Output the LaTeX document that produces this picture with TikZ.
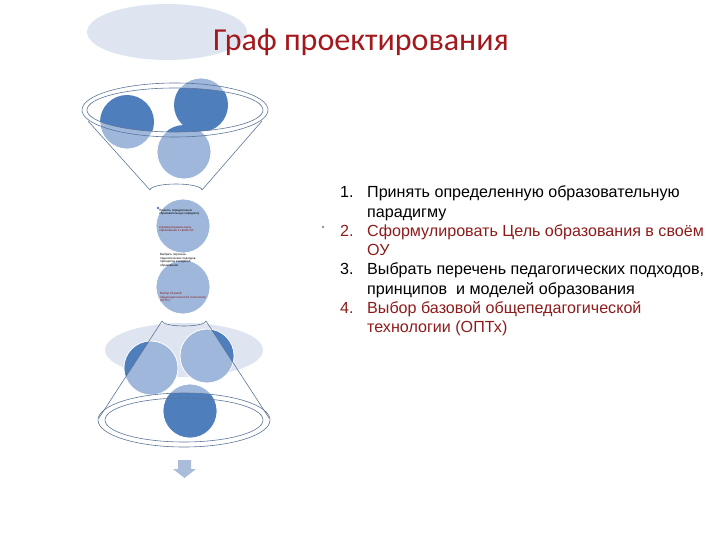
\documentclass[tikz,border=0pt]{standalone}
\usepackage{fontspec}
\setmainfont{Liberation Sans}
\newfontfamily\headfont{Carlito}
\usetikzlibrary{positioning}
\definecolor{darkball}{HTML}{4F7EBC}
\definecolor{lightball}{HTML}{9EB7DA}
\definecolor{haze}{HTML}{DFE5F0}
\definecolor{rimblue}{HTML}{5C7596}
\definecolor{headred}{HTML}{A3181D}
\definecolor{itemred}{HTML}{8E1B1B}
\definecolor{arrowblue}{HTML}{A9BDDB}

\begin{document}
\begin{tikzpicture}[x=1pt,y=-1pt,
  ball/.style={circle,fill=lightball,draw=white,line width=0.8pt,minimum size=54pt,inner sep=0pt},
  rim/.style={draw=rimblue,line width=0.6pt},
  tiny/.style={font=\fontsize{3}{3.6}\selectfont,align=left,inner sep=0pt,anchor=north west},
  num/.style={font=\fontsize{16.1}{19.2}\selectfont,inner sep=0pt,anchor=base west},
  item/.style={font=\fontsize{16.1}{19.2}\selectfont,align=left,inner sep=0pt,anchor=base west}]
\useasboundingbox (0,0) rectangle (720,540);

% backdrop and title
\fill[haze] (167,32) ellipse (80 and 28);
\node[font=\headfont\fontsize{32}{36}\selectfont,text=headred,inner sep=0pt,anchor=base west] (title) at (213,51) {Граф проектирования};

% upper funnel
\node[ball] (t1) at (127,122) {};
\node[ball] (t2) at (201,105) {};
\node[ball] (t3) at (184,152) {};
\begin{scope}
  \clip (175,110) ellipse (88 and 22);
  \fill[darkball] (t1.center) circle (27);
  \fill[darkball] (t2.center) circle (27);
  \fill[darkball] (t3.center) circle (27);
\end{scope}
\draw[rim] (175,110) ellipse (93 and 27);
\draw[rim] (175,110) ellipse (88 and 22);
\coordinate (fl) at (88,121);
\coordinate (fr) at (262,121);
\coordinate (nl) at (150,190);
\coordinate (nr) at (202,190);
\draw[rim] (fl) -- (nl);
\draw[rim] (fr) -- (nr);
\draw[rim] (nl) arc (180:360:26 and 6);

% middle steps
\node[ball] (m1) at (183,226) {};
\node[ball] (m2) at (183,287) {};
\fill[darkball] (158,208) circle (1.3);
\node[tiny] (s1) at (159,209) {Принять определенную\\образовательную парадигму};
\node[tiny,text=itemred] (s2) at (159,226) {Сформулировать Цель\\образования в своём ОУ};
\node[tiny] (s3) at (160,253) {Выбрать перечень\\педагогических подходов,\\принципов и моделей\\образования};
\node[tiny,text=itemred] (s4) at (160,292) {Выбор базовой\\общепедагогической технологии\\(ОПТх)};

% lower cone
\fill[haze] (184,350) ellipse (79 and 27);
\node[ball] (b1) at (151,368) {};
\node[ball] (b2) at (207,356) {};
\node[ball] (b3) at (190,411) {};
\coordinate (cl) at (162,321);
\coordinate (cr) at (206,321);
\coordinate (el) at (99,418);
\coordinate (er) at (269,418);
\begin{scope}
  \clip (cl) -- (el) -- (0,418) -- (0,300) -- (170,300) -- cycle;
  \fill[darkball] (b1.center) circle (26.5);
\end{scope}
\begin{scope}
  \clip (cr) -- (er) -- (320,418) -- (320,300) -- (198,300) -- cycle;
  \fill[darkball] (b2.center) circle (26.5);
\end{scope}
\begin{scope}
  \clip (184,420) ellipse (86 and 27);
  \fill[darkball] (b3.center) circle (26.5);
\end{scope}
\draw[rim] (cl) arc (180:0:22 and 5);
\draw[rim] (cl) -- (el);
\draw[rim] (cr) -- (er);
\draw[rim] (184,420) ellipse (86 and 27);
\draw[rim] (184,420) ellipse (79 and 22);

% outflow arrow
\fill[arrowblue] (178,460) -- (191,460) -- (191,469) -- (196,469) -- (184.5,478) -- (173,469) -- (178,469) -- cycle;

% step list (base = last line)
\fill[rimblue] (323,227) circle (1.2);
\node[num] (n1) at (340,198) {1.};
\node[item] (i1) at (367,217.2) {Принять определенную образовательную\\парадигму};
\node[num,text=itemred] (n2) at (340,236.4) {2.};
\node[item,text=itemred] (i2) at (367,255.6) {Сформулировать Цель образования в своём\\ОУ};
\node[num] (n3) at (340,274.8) {3.};
\node[item] (i3) at (367,294) {Выбрать перечень педагогических подходов,\\принципов\ \ и моделей образования};
\node[num,text=itemred] (n4) at (340,313.2) {4.};
\node[item,text=itemred] (i4) at (367,332.4) {Выбор базовой общепедагогической\\технологии (ОПТх)};
\end{tikzpicture}
\end{document}
